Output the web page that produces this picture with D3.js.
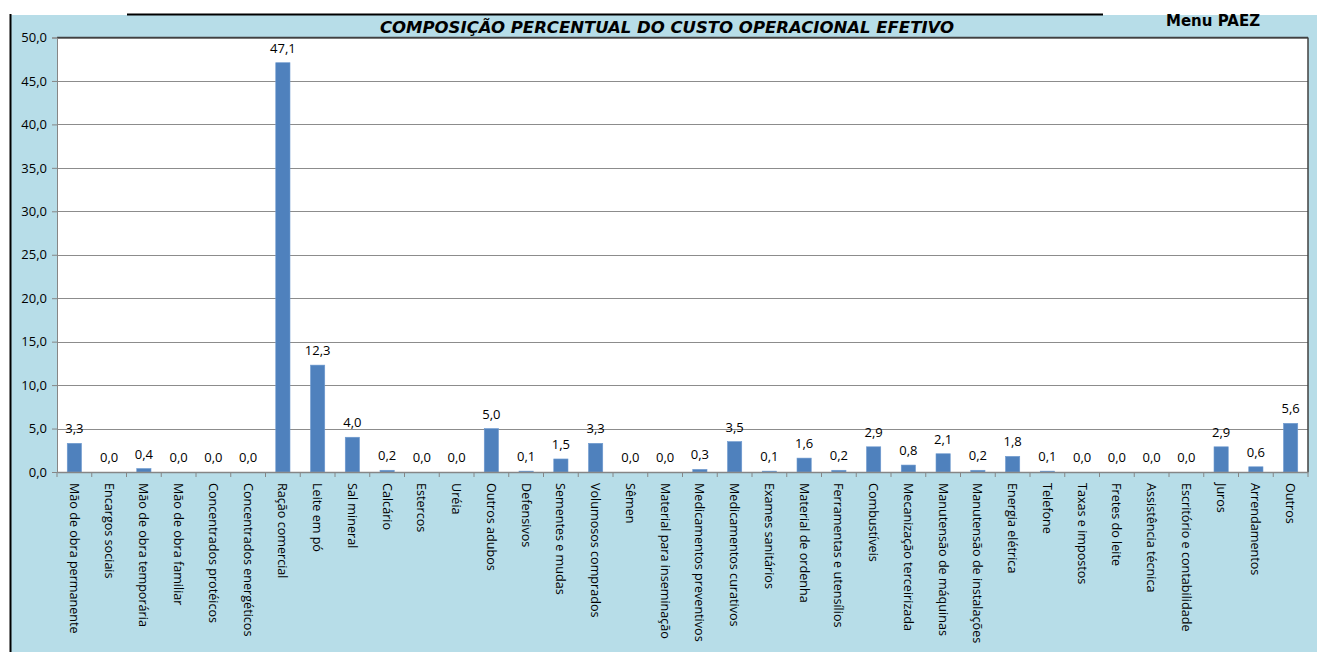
<!DOCTYPE html>
<html>
<head>
<meta charset="utf-8">
<script src="https://cdn.jsdelivr.net/npm/d3@7"></script>
<style>
  body { margin: 0; background: #fff; }
  svg { display: block; }
</style>
</head>
<body>
<div id="chart"></div>
<script>
// chart data
var categories = ["Mão de obra permanente", "Encargos sociais", "Mão de obra temporária", "Mão de obra familiar",
  "Concentrados protéicos", "Concentrados energéticos", "Ração comercial", "Leite em pó", "Sal mineral",
  "Calcário", "Estercos", "Uréia", "Outros adubos", "Defensivos", "Sementes e mudas", "Volumosos comprados",
  "Sêmen", "Material para inseminação", "Medicamentos preventivos", "Medicamentos curativos",
  "Exames sanitários", "Material de ordenha", "Ferramentas e utensílios", "Combustíveis",
  "Mecanização terceirizada", "Manutensão de máquinas", "Manutensão de instalações", "Energia elétrica",
  "Telefone", "Taxas e impostos", "Fretes do leite", "Assistência técnica", "Escritório e contabilidade",
  "Juros", "Arrendamentos", "Outros"];
var values = [3.3, 0.0, 0.4, 0.0, 0.0, 0.0, 47.1, 12.3, 4.0, 0.2, 0.0, 0.0, 5.0, 0.1, 1.5, 3.3,
  0.0, 0.0, 0.3, 3.5, 0.1, 1.6, 0.2, 2.9, 0.8, 2.1, 0.2, 1.8, 0.1, 0.0, 0.0, 0.0, 0.0, 2.9, 0.6, 5.6];
var yTicks = [0, 5, 10, 15, 20, 25, 30, 35, 40, 45, 50];
var title = "COMPOSIÇÃO PERCENTUAL DO CUSTO OPERACIONAL EFETIVO";
var menuText = "Menu PAEZ";

////////////////////////////////////////////////////////////
//////////////////////// Setup /////////////////////////////
////////////////////////////////////////////////////////////
var W = 1317, H = 652;
var plot = {left: 57, top: 37.5, right: 1308, bottom: 472};
var fmt = function(v) { return v.toFixed(1).replace(".", ","); };
var font = "'Open Sans', 'DejaVu Sans', sans-serif";

var svg = d3.select("#chart").append("svg")
  .attr("width", W).attr("height", H);

// light blue frame
svg.append("rect").attr("x", 11).attr("y", 15).attr("width", W - 11).attr("height", H - 15)
  .attr("fill", "#b7dde8");
svg.append("line").attr("x1", 10.5).attr("x2", 10.5).attr("y1", 14).attr("y2", H)
  .attr("stroke", "#000").attr("stroke-width", 2);
svg.append("line").attr("x1", 127).attr("x2", 1103).attr("y1", 14.5).attr("y2", 14.5)
  .attr("stroke", "#000").attr("stroke-width", 2);

// plot area
svg.append("rect").attr("x", plot.left).attr("y", plot.top)
  .attr("width", plot.right - plot.left).attr("height", plot.bottom - plot.top)
  .attr("fill", "#fff");

var x = d3.scaleBand().domain(categories).range([plot.left, plot.right]).paddingInner(0.59).paddingOuter(0.295);
var xb = d3.scaleBand().domain(categories).range([plot.left, plot.right]);
var y = d3.scaleLinear().domain([0, 50]).range([plot.bottom, plot.top]);

// gridlines
svg.append("g").selectAll("line").data(yTicks.filter(function(d){ return d > 0; })).enter()
  .append("line")
  .attr("x1", plot.left).attr("x2", plot.right)
  .attr("y1", function(d){ return Math.round(y(d)) + 0.5; })
  .attr("y2", function(d){ return Math.round(y(d)) + 0.5; })
  .attr("stroke", "#8c8c8c").attr("stroke-width", 1);

// plot border top/right
svg.append("line").attr("x1", plot.left).attr("x2", plot.right).attr("y1", plot.top).attr("y2", plot.top)
  .attr("stroke", "#404040").attr("stroke-width", 1.5);
svg.append("line").attr("x1", plot.right).attr("x2", plot.right).attr("y1", plot.top).attr("y2", plot.bottom)
  .attr("stroke", "#404040").attr("stroke-width", 1.5);

// bars
svg.append("g").selectAll("rect").data(values).enter()
  .append("rect")
  .attr("x", function(d, i){ return x(categories[i]); })
  .attr("width", x.bandwidth())
  .attr("y", function(d){ return y(d); })
  .attr("height", function(d){ return plot.bottom - y(d); })
  .attr("fill", "#4f81bd")
  .attr("stroke", "#6f9bd0").attr("stroke-width", 0.6);

// value labels
svg.append("g").selectAll("text").data(values).enter()
  .append("text")
  .attr("x", function(d, i){ return x(categories[i]) + x.bandwidth() / 2; })
  .attr("y", function(d){ return y(d) - 10; })
  .attr("text-anchor", "middle")
  .style("font-family", font)
  .style("font-size", "13px")
  .attr("fill", "#000")
  .text(function(d){ return fmt(d); });

// y axis
var yAxis = d3.axisLeft(y).tickValues(yTicks).tickFormat(fmt).tickSize(5).tickPadding(5);
var gy = svg.append("g").attr("transform", "translate(" + plot.left + ",0)").call(yAxis);
gy.select(".domain").attr("stroke", "#868686");
gy.selectAll(".tick line").attr("stroke", "#868686");
gy.selectAll("text").style("font-family", font)
  .style("font-size", "13px").attr("fill", "#000");

// x axis
var xAxis = d3.axisBottom(xb).tickSize(0).tickFormat("");
var gx = svg.append("g").attr("transform", "translate(0," + plot.bottom + ")").call(xAxis);
gx.select(".domain").attr("stroke", "#868686").attr("stroke-width", 1.5);
gx.selectAll(".tick").remove();
gx.selectAll(".sep").data(d3.range(categories.length + 1)).enter()
  .append("line").attr("class", "sep")
  .attr("x1", function(i){ return plot.left + i * xb.step(); })
  .attr("x2", function(i){ return plot.left + i * xb.step(); })
  .attr("y1", 0).attr("y2", 5)
  .attr("stroke", "#868686");

// category labels, rotated
svg.append("g").selectAll("text").data(categories).enter()
  .append("text")
  .attr("transform", function(d){
    return "translate(" + (xb(d) + xb.bandwidth() / 2 - 4.5) + "," + (plot.bottom + 11) + ") rotate(90)";
  })
  .attr("text-anchor", "start")
  .style("font-family", font)
  .style("font-size", "12.6px")
  .attr("fill", "#000")
  .text(function(d){ return d; });

// title
svg.append("text").attr("x", 667).attr("y", 33)
  .attr("text-anchor", "middle")
  .style("font-family", "'DejaVu Sans', sans-serif")
  .style("font-size", "16.5px").style("font-weight", "bold").style("font-style", "italic")
  .text(title);

svg.append("text").attr("x", 1213).attr("y", 26)
  .attr("text-anchor", "middle")
  .style("font-family", "'DejaVu Sans', sans-serif")
  .style("font-size", "15px").style("font-weight", "bold")
  .text(menuText);
</script>
</body>
</html>
